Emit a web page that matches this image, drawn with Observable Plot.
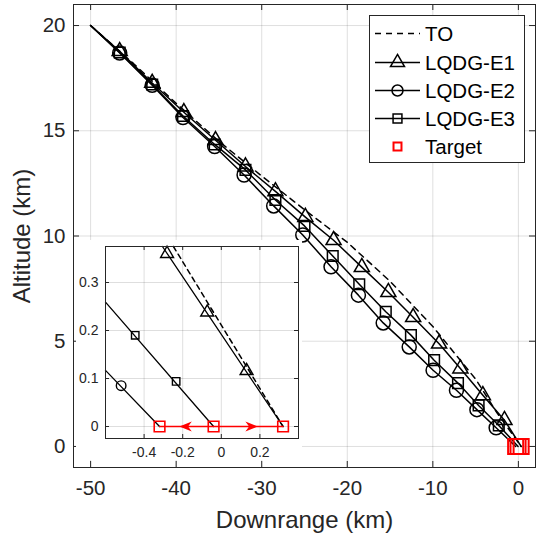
<!DOCTYPE html>
<html><head><meta charset="utf-8">
<script src="https://cdn.jsdelivr.net/npm/d3@7"></script>
<script src="https://cdn.jsdelivr.net/npm/@observablehq/plot@0.6"></script>
<style>
body{margin:0;background:#fff;font-family:"Liberation Sans",Arial,sans-serif;}
#wrap{position:relative;width:542px;height:537px;overflow:hidden;}
#wrap svg{position:absolute;}
</style></head><body><div id="wrap"></div>
<script>
// ---------- data ----------
const xTicks = [-50, -40, -30, -20, -10, 0];
const yTicks = [0, 5, 10, 15, 20];
const insetXTicks = [-0.4, -0.2, 0, 0.2];
const insetYTicks = [0, 0.1, 0.2, 0.3];

const startX = -50, startY = 20;
const targetX = [-0.32, -0.04, 0.32];
const targetY = [0, 0, 0];

const toX = [-50, -45, -40, -35, -30, -25, -20, -15, -10, -7.5, -5, -2.5, 0.32];
const toY = [20, 18.2, 16.3, 14.5, 12.85, 11.25, 9.7, 7.85, 5.7, 4.45, 3.2, 1.6, 0];

const e1X = [-46.6, -42.8, -39.1, -35.4, -31.9, -28.4, -24.9, -21.6, -18.3, -15.2, -12.3, -9.27, -6.78, -4.15, -1.63];
const e1Y = [18.78, 17.27, 15.88, 14.55, 13.3, 12.12, 10.9, 9.8, 8.52, 7.33, 6.14, 4.88, 3.7, 2.43, 1.25];
const e2X = [-46.6, -42.8, -39.2, -35.5, -32.06, -28.6, -25.2, -21.9, -18.7, -15.8, -12.76, -9.97, -7.24, -4.85, -2.6];
const e2Y = [18.7, 17.16, 15.63, 14.25, 12.9, 11.43, 10.05, 8.54, 7.19, 5.87, 4.73, 3.62, 2.67, 1.75, 0.89];
const e3X = [-46.6, -42.8, -39.2, -35.5, -31.9, -28.4, -25.0, -21.7, -18.6, -15.5, -12.56, -9.85, -7.06, -4.65, -2.29];
const e3Y = [18.72, 17.2, 15.7, 14.35, 13.14, 11.71, 10.48, 9.05, 7.71, 6.4, 5.29, 4.1, 3.01, 1.95, 1.0];

// inset (zoom near the targets)
const inToX = [-0.248, 0.32];
const inToY = [0.375, 0];
const inE1LineX = [-0.305, 0.32];
const inE1LineY = [0.375, 0];
const inE1X = [-0.281, -0.073, 0.131];
const inE1Y = [0.36, 0.238, 0.116];
const inE2LineX = [-0.6, -0.32];
const inE2LineY = [0.117, 0];
const inE2X = [-0.519];
const inE2Y = [0.085];
const inE3LineX = [-0.6, -0.04];
const inE3LineY = [0.259, 0];
const inE3X = [-0.446, -0.234];
const inE3Y = [0.19, 0.094];
const arrowX = [-0.185, 0.157];
const arrowDir = [180, 0];

const legendLabels = ["TO", "LQDG-E1", "LQDG-E2", "LQDG-E3", "Target"];

// ---------- helpers ----------
const pts = (xs, ys) => xs.map((x, i) => ({x, y: ys[i]}));
const withEnds = (xs, ys, endIdx) => [{x: startX, y: startY}, ...pts(xs, ys), {x: targetX[endIdx], y: targetY[endIdx]}];
const ink = "#262626";
const font = "'Liberation Sans', Arial, Helvetica, sans-serif";

const W = 542, H = 537, mL = 73, mR = 7, mT = 4, mB = 70;
const innerW = W - mL - mR, innerH = H - mT - mB;
const tk = 6;

const main = Plot.plot({
  width: W, height: H, marginLeft: mL, marginRight: mR, marginTop: mT, marginBottom: mB,
  x: {domain: [-52, 2]},
  y: {domain: [-1, 21]},
  style: {fontFamily: font, background: "transparent", color: ink, overflow: "visible"},
  marks: [
    Plot.gridX(xTicks, {stroke: "#000", strokeOpacity: 0.13}),
    Plot.gridY(yTicks, {stroke: "#000", strokeOpacity: 0.13}),
    Plot.tickX(xTicks, {x: d => d, insetTop: innerH - tk, stroke: ink}),
    Plot.tickX(xTicks, {x: d => d, insetBottom: innerH - tk, stroke: ink}),
    Plot.tickY(yTicks, {y: d => d, insetRight: innerW - tk, stroke: ink}),
    Plot.tickY(yTicks, {y: d => d, insetLeft: innerW - tk, stroke: ink}),
    Plot.axisX(xTicks, {tickSize: 0, tickPadding: 13, tickFormat: d => String(d), fontSize: 20.5, label: null, fill: ink}),
    Plot.axisY(yTicks, {tickSize: 0, tickPadding: 8, tickFormat: d => String(d), fontSize: 20.5, label: null, fill: ink}),
    Plot.line(pts(toX, toY), {x: "x", y: "y", stroke: "#000", strokeWidth: 1.5, strokeDasharray: "6,5"}),
    Plot.line(withEnds(e1X, e1Y, 2), {x: "x", y: "y", stroke: "#000", strokeWidth: 1.5}),
    Plot.line(withEnds(e2X, e2Y, 0), {x: "x", y: "y", stroke: "#000", strokeWidth: 1.5}),
    Plot.line(withEnds(e3X, e3Y, 1), {x: "x", y: "y", stroke: "#000", strokeWidth: 1.5}),
    Plot.dot(pts(e1X, e1Y), {x: "x", y: "y", symbol: "triangle", r: 5.6, stroke: "#000", fill: "none", strokeWidth: 1.5}),
    Plot.dot(pts(e2X, e2Y), {x: "x", y: "y", symbol: "circle", r: 7, stroke: "#000", fill: "none", strokeWidth: 1.5}),
    Plot.dot(pts(e3X, e3Y), {x: "x", y: "y", symbol: "square", r: 6, stroke: "#000", fill: "none", strokeWidth: 1.5}),
    Plot.dot(pts(targetX, targetY), {x: "x", y: "y", symbol: "square", r: 8.5, stroke: "#ff0000", fill: "none", strokeWidth: 2}),
    Plot.frame({stroke: ink}),
    Plot.text(["Downrange (km)"], {frameAnchor: "bottom", textAnchor: "middle", lineAnchor: "middle", dy: 53, fontSize: 24, fill: ink}),
    Plot.text(["Altitude (km)"], {frameAnchor: "left", textAnchor: "middle", lineAnchor: "middle", rotate: -90, dx: -51, fontSize: 24, fill: ink})
  ]
});

// ---------- inset ----------
const iL = 76, iT = 240, iW = 226, iH = 220;
const imL = 29, imT = 6, imR = 4, imB = 22;
const iInW = iW - imL - imR, iInH = iH - imT - imB;
const arrowSym = {
  draw(ctx, size) {
    const s = Math.sqrt(size) / 2;
    ctx.moveTo(s, 0);
    ctx.lineTo(-s, -0.8 * s);
    ctx.lineTo(-0.4 * s, 0);
    ctx.lineTo(-s, 0.8 * s);
    ctx.closePath();
  }
};
const inset = Plot.plot({
  width: iW, height: iH, marginLeft: imL, marginRight: imR, marginTop: imT, marginBottom: imB,
  x: {domain: [-0.6, 0.4]},
  y: {domain: [-0.025, 0.375]},
  style: {fontFamily: font, background: "#fff", color: ink, overflow: "visible"},
  marks: [
    Plot.gridX(insetXTicks, {stroke: "#000", strokeOpacity: 0.13}),
    Plot.gridY(insetYTicks, {stroke: "#000", strokeOpacity: 0.13}),
    Plot.tickX(insetXTicks, {x: d => d, insetTop: iInH - 4, stroke: ink}),
    Plot.tickX(insetXTicks, {x: d => d, insetBottom: iInH - 4, stroke: ink}),
    Plot.tickY(insetYTicks, {y: d => d, insetRight: iInW - 4, stroke: ink}),
    Plot.tickY(insetYTicks, {y: d => d, insetLeft: iInW - 4, stroke: ink}),
    Plot.axisX(insetXTicks, {tickSize: 0, tickPadding: 9, tickFormat: d => String(d), fontSize: 14, label: null, fill: ink}),
    Plot.axisY(insetYTicks, {tickSize: 0, tickPadding: 7, tickFormat: d => String(d), fontSize: 14, label: null, fill: ink}),
    Plot.line(pts(inToX, inToY), {x: "x", y: "y", stroke: "#000", strokeWidth: 1.5, strokeDasharray: "5,4"}),
    Plot.line(pts(inE1LineX, inE1LineY), {x: "x", y: "y", stroke: "#000", strokeWidth: 1.3}),
    Plot.line(pts(inE2LineX, inE2LineY), {x: "x", y: "y", stroke: "#000", strokeWidth: 1.3}),
    Plot.line(pts(inE3LineX, inE3LineY), {x: "x", y: "y", stroke: "#000", strokeWidth: 1.3}),
    Plot.dot(pts(inE1X, inE1Y), {x: "x", y: "y", symbol: "triangle", r: 4.8, stroke: "#000", fill: "none", strokeWidth: 1.4}),
    Plot.dot(pts(inE2X, inE2Y), {x: "x", y: "y", symbol: "circle", r: 4.8, stroke: "#000", fill: "none", strokeWidth: 1.4}),
    Plot.dot(pts(inE3X, inE3Y), {x: "x", y: "y", symbol: "square", r: 4.2, stroke: "#000", fill: "none", strokeWidth: 1.4}),
    Plot.line(pts([targetX[0], targetX[2]], [0, 0]), {x: "x", y: "y", stroke: "#ff0000", strokeWidth: 1.5}),
    Plot.dot(arrowX.map((x, i) => ({x, y: 0, r: arrowDir[i]})), {x: "x", y: "y", rotate: "r", symbol: arrowSym, r: 7, fill: "#ff0000", stroke: "none"}),
    Plot.dot(pts(targetX, targetY), {x: "x", y: "y", symbol: "square", r: 6, stroke: "#ff0000", fill: "none", strokeWidth: 1.6}),
    Plot.frame({stroke: ink})
  ]
});

// ---------- legend ----------
const lg = d3.create("svg").attr("width", 157).attr("height", 149)
  .style("left", "369px").style("top", "15px").style("font-family", font);
lg.append("rect").attr("x", 0.5).attr("y", 0.5).attr("width", 155).attr("height", 147)
  .attr("fill", "#fff").attr("stroke", ink).attr("stroke-width", 1);
const rowsY = [18.5, 47.5, 75.5, 103.5, 131.5];
const symTypes = [null, d3.symbolTriangle, d3.symbolCircle, d3.symbolSquare, d3.symbolSquare];
const symR = [0, 5.2, 5.5, 5, 4.5];
legendLabels.forEach((lab, i) => {
  const g = lg.append("g").attr("transform", `translate(0,${rowsY[i]})`);
  if (i < 4) {
    g.append("line").attr("x1", 6).attr("x2", 51).attr("y1", 0).attr("y2", 0)
      .attr("stroke", "#000").attr("stroke-width", 1.5)
      .attr("stroke-dasharray", i === 0 ? "6,5" : null);
  }
  if (i > 0) {
    g.append("path").attr("transform", "translate(28.5,0)")
      .attr("d", d3.symbol().type(symTypes[i]).size(Math.PI * symR[i] * symR[i])())
      .attr("fill", "none").attr("stroke", i === 4 ? "#ff0000" : "#000")
      .attr("stroke-width", i === 4 ? 2 : 1.5);
  }
  g.append("text").attr("x", 56).attr("y", 0).attr("dy", "0.35em")
    .attr("font-size", 20.5).attr("fill", "#000").text(lab);
});

const wrap = document.getElementById("wrap");
main.style.left = "0px"; main.style.top = "0px";
wrap.appendChild(main);
wrap.appendChild(lg.node());
inset.style.left = iL + "px"; inset.style.top = iT + "px";
wrap.appendChild(inset);
</script>
</body></html>
